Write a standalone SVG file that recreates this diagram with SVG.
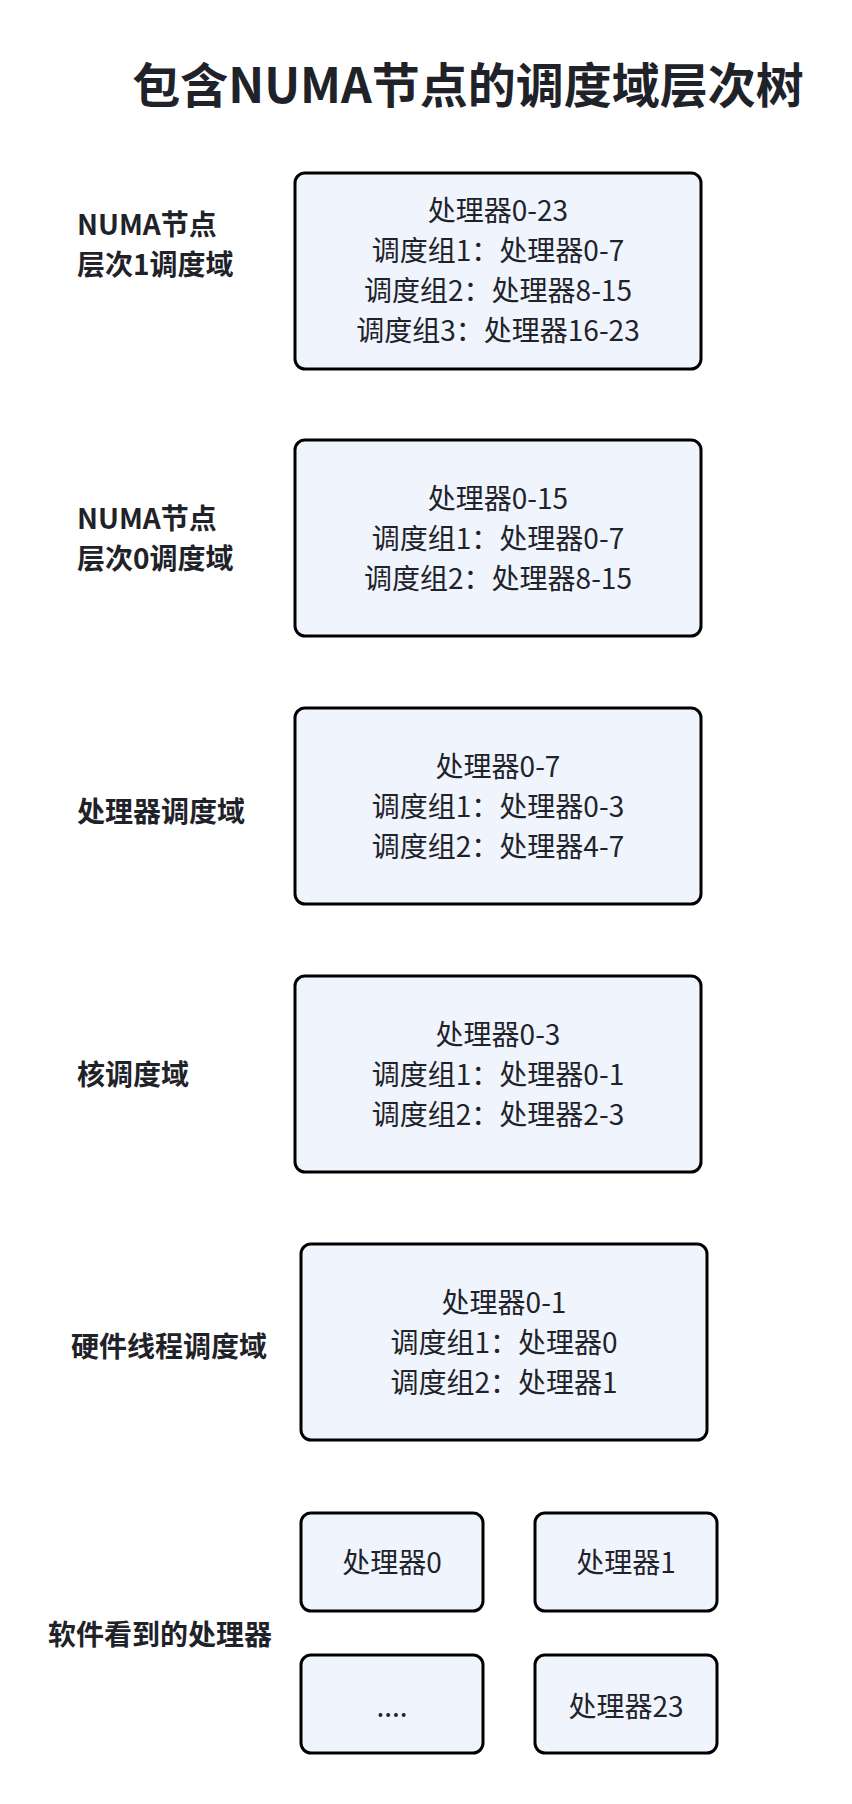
<svg xmlns="http://www.w3.org/2000/svg" width="852" height="1804" viewBox="0 0 852 1804">
<style>
text{font-family:"Noto Sans CJK SC","Noto Sans",sans-serif;fill:#1f2329}
.title{font-size:48px;font-weight:700}
.lbl{font-size:28px;font-weight:700}
.t{font-size:28px;text-anchor:middle}
.box{fill:#eff4fd;stroke:#000;stroke-width:3}
</style>
<rect width="852" height="1804" fill="#fff"/>
<text id="title" class="title" x="468" y="103" text-anchor="middle">包含NUMA节点的调度域层次树</text>
<g id="label1"><text class="lbl" x="77" y="235">NUMA节点</text><text class="lbl" x="77" y="275">层次1调度域</text></g>
<g id="label2"><text class="lbl" x="77" y="529">NUMA节点</text><text class="lbl" x="77" y="569">层次0调度域</text></g>
<g id="label3"><text class="lbl" x="77" y="822">处理器调度域</text></g>
<g id="label4"><text class="lbl" x="77" y="1085">核调度域</text></g>
<g id="label5"><text class="lbl" x="71" y="1357">硬件线程调度域</text></g>
<g id="label6"><text class="lbl" x="48" y="1645">软件看到的处理器</text></g>
<g id="box1"><rect class="box" x="295" y="173" width="406" height="196" rx="10"/>
<text class="t" x="498" y="221">处理器0-23</text><text class="t" x="498" y="261">调度组1：处理器0-7</text><text class="t" x="498" y="301">调度组2：处理器8-15</text><text class="t" x="498" y="341">调度组3：处理器16-23</text></g>
<g id="box2"><rect class="box" x="295" y="440" width="406" height="196" rx="10"/>
<text class="t" x="498" y="509">处理器0-15</text><text class="t" x="498" y="549">调度组1：处理器0-7</text><text class="t" x="498" y="589">调度组2：处理器8-15</text></g>
<g id="box3"><rect class="box" x="295" y="708" width="406" height="196" rx="10"/>
<text class="t" x="498" y="777">处理器0-7</text><text class="t" x="498" y="817">调度组1：处理器0-3</text><text class="t" x="498" y="857">调度组2：处理器4-7</text></g>
<g id="box4"><rect class="box" x="295" y="976" width="406" height="196" rx="10"/>
<text class="t" x="498" y="1045">处理器0-3</text><text class="t" x="498" y="1085">调度组1：处理器0-1</text><text class="t" x="498" y="1125">调度组2：处理器2-3</text></g>
<g id="box5"><rect class="box" x="301" y="1244" width="406" height="196" rx="10"/>
<text class="t" x="504" y="1313">处理器0-1</text><text class="t" x="504" y="1353">调度组1：处理器0</text><text class="t" x="504" y="1393">调度组2：处理器1</text></g>
<g id="cpu0"><rect class="box" x="301" y="1513" width="182" height="98" rx="10"/><text class="t" x="392" y="1573">处理器0</text></g>
<g id="cpu1"><rect class="box" x="535" y="1513" width="182" height="98" rx="10"/><text class="t" x="626" y="1573">处理器1</text></g>
<g id="cpudots"><rect class="box" x="301" y="1655" width="182" height="98" rx="10"/><text class="t" x="392" y="1717">....</text></g>
<g id="cpu23"><rect class="box" x="535" y="1655" width="182" height="98" rx="10"/><text class="t" x="626" y="1717">处理器23</text></g>
<g id="connectors"></g>
</svg>
